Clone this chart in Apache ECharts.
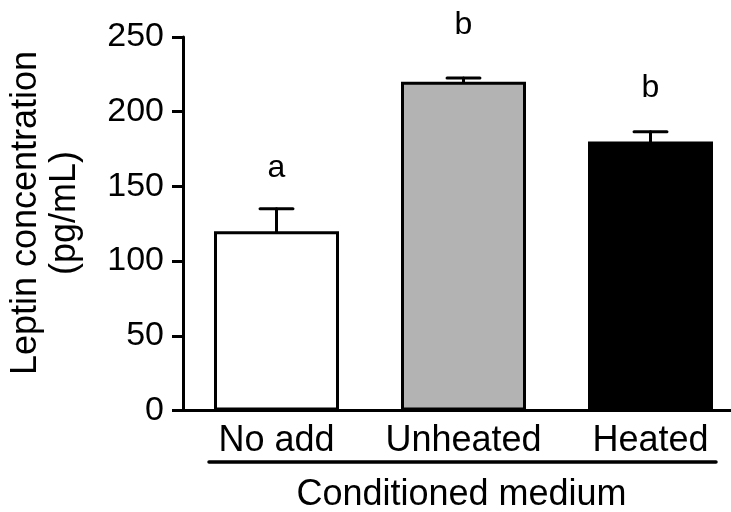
<!DOCTYPE html>
<html>
<head>
<meta charset="utf-8">
<script src="https://cdn.jsdelivr.net/npm/echarts@6/dist/echarts.min.js"></script>
<style>
  html, body { margin: 0; padding: 0; background: #fff; }
  #chart { width: 731px; height: 512px; }
</style>
</head>
<body>
<div id="chart"></div>
<script>
// ---- Data ----
const categories = ['No add', 'Unheated', 'Heated'];
const means = [120, 220, 180];
const errors = [15, 2.5, 6.5];
const letters = ['a', 'b', 'b'];
const letterLevels = [162, 258, 216];   // value level of each significance letter
const barColors = ['#ffffff', '#b3b3b3', '#000000'];
const yTicks = { min: 0, max: 250, interval: 50 };
const yTitle = 'Leptin concentration\n(pg/mL)';
const xTitle = 'Conditioned medium';

const FONT = '"Liberation Sans", Arial, Helvetica, sans-serif';

const chart = echarts.init(document.getElementById('chart'), null, { renderer: 'canvas' });

const option = {
  backgroundColor: '#ffffff',
  animation: false,
  grid: { left: 183, top: 37, bottom: 101.5, width: 561, containLabel: false, outerBoundsMode: 'none' },
  xAxis: {
    type: 'category',
    data: categories,
    axisLine: { show: true, lineStyle: { color: '#000', width: 3 } },
    axisTick: { show: false },
    axisLabel: { color: '#000', fontSize: 36, fontFamily: FONT, margin: 13, interval: 0 },
    name: xTitle,
    nameLocation: 'middle',
    nameGap: 67,
    nameTextStyle: { color: '#000', fontSize: 36, fontFamily: FONT, padding: [0, 4, 0, 0] }
  },
  yAxis: {
    type: 'value',
    min: yTicks.min,
    max: yTicks.max,
    interval: yTicks.interval,
    axisLine: { show: true, lineStyle: { color: '#000', width: 3 } },
    axisTick: { show: true, length: 11, lineStyle: { color: '#000', width: 3 } },
    axisLabel: { color: '#000', fontSize: 34, fontFamily: FONT, margin: 19 },
    splitLine: { show: false }
  },
  graphic: [
    {
      type: 'text',
      x: 46, y: 213,
      rotation: Math.PI / 2,
      style: {
        text: yTitle,
        fill: '#000',
        font: '36px ' + FONT,
        lineHeight: 39,
        align: 'center',
        verticalAlign: 'middle'
      }
    },
    {
      type: 'line',
      shape: { x1: 209, y1: 462, x2: 716, y2: 462 },
      style: { stroke: '#000', lineWidth: 3.5, lineCap: 'round' }
    }
  ],
  series: [
    {
      type: 'bar',
      data: means.map((v, i) => ({
        value: v,
        itemStyle: { color: barColors[i], borderColor: '#000', borderWidth: 3 }
      })),
      barWidth: 125,
      z: 2
    },
    {
      type: 'custom',
      z: 3,
      data: means.map((m, i) => [i, m, m + errors[i]]),
      renderItem: function (params, api) {
        const idx = api.value(0);
        const base = api.coord([idx, api.value(1)]);
        const top = api.coord([idx, api.value(2)]);
        const capHalf = api.size([1, 0])[0] * 0.088;
        const st = { stroke: '#000', lineWidth: 3, lineCap: 'round' };
        return {
          type: 'group',
          children: [
            { type: 'line', shape: { x1: base[0], y1: base[1], x2: top[0], y2: top[1] }, style: st },
            { type: 'line', shape: { x1: top[0] - capHalf, y1: top[1], x2: top[0] + capHalf, y2: top[1] }, style: st }
          ]
        };
      }
    },
    {
      type: 'custom',
      z: 4,
      clip: false,
      data: letterLevels.map((v, i) => [i, v]),
      renderItem: function (params, api) {
        const p = api.coord([api.value(0), api.value(1)]);
        return {
          type: 'text',
          x: p[0], y: p[1],
          style: {
            text: letters[params.dataIndex],
            fill: '#000',
            font: '32px ' + FONT,
            align: 'center',
            verticalAlign: 'middle'
          }
        };
      }
    }
  ]
};

chart.setOption(option);
</script>
</body>
</html>
